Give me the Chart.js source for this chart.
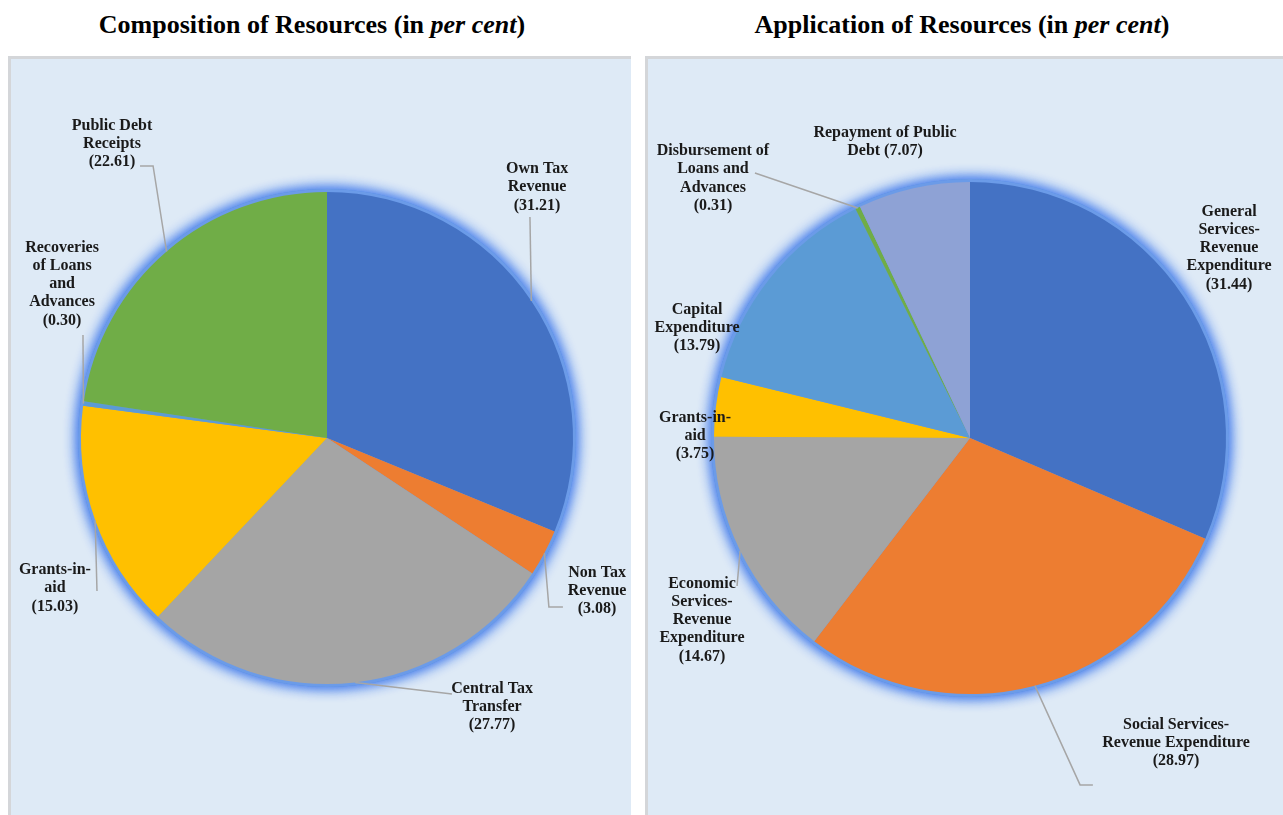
<!DOCTYPE html>
<html>
<head>
<meta charset="utf-8">
<script src="https://cdn.jsdelivr.net/npm/chart.js@4.4.1/dist/chart.umd.min.js"></script>
<style>
  body { margin: 0; background: #fff; width: 1283px; height: 815px; overflow: hidden; position: relative; }
  .title { position: absolute; top: 8px; font: bold 26px "Liberation Serif", "Times New Roman", serif; color: #000; text-align: center; line-height: 34px; }
  .panel { position: absolute; top: 56px; height: 759px; background: #deeaf6; border-top: 3px solid #d4d6d9; border-left: 3px solid #d4d6d9; box-sizing: border-box; }
  canvas { position: absolute; }
</style>
</head>
<body>
<div class="title" style="left:0;width:624px">Composition of Resources (in <i>per cent</i>)</div>
<div class="title" style="left:645px;width:634px">Application of Resources (in <i>per cent</i>)</div>
<div class="panel" style="left:8px;width:623px"></div>
<div class="panel" style="left:645px;width:638px"></div>
<canvas id="leftChart" width="620" height="756" style="left:11px;top:59px"></canvas>
<canvas id="rightChart" width="635" height="756" style="left:648px;top:59px"></canvas>
<script>
// Composition of Resources
const leftLabels = ["Own Tax Revenue", "Non Tax Revenue", "Central Tax Transfer", "Grants-in-aid", "Recoveries of Loans and Advances", "Public Debt Receipts"];
const leftValues = [31.21, 3.08, 27.77, 15.03, 0.30, 22.61];
const leftColors = ["#4472c4", "#ed7d31", "#a5a5a5", "#ffc000", "#5b9bd5", "#70ad47"];

// Application of Resources
const rightLabels = ["General Services-Revenue Expenditure", "Social Services-Revenue Expenditure", "Economic Services-Revenue Expenditure", "Grants-in-aid", "Capital Expenditure", "Disbursement of Loans and Advances", "Repayment of Public Debt"];
const rightValues = [31.44, 28.97, 14.67, 3.75, 13.79, 0.31, 7.07];
const rightColors = ["#4472c4", "#ed7d31", "#a5a5a5", "#ffc000", "#5b9bd5", "#70ad47", "#8ea2d5"];

// label layout, in units of the pie radius from the centre ("#" = value)
const leftLayout = [
  { lines: ["Own Tax", "Revenue", "(#)"], at: [0.854, -1.02], leader: [[0.825, -0.898]] },
  { lines: ["Non Tax", "Revenue", "(#)"], at: [1.098, 0.622], leader: [[0.902, 0.687], [0.959, 0.687]] },
  { lines: ["Central Tax", "Transfer", "(#)"], at: [0.671, 1.093], leader: [[0.508, 1.041]] },
  { lines: ["Grants-in-", "aid", "(#)"], at: [-1.106, 0.61], leader: [[-0.935, 0.622]] },
  { lines: ["Recoveries", "of Loans", "and", "Advances", "(#)"], at: [-1.077, -0.626], leader: [[-0.992, -0.419]] },
  { lines: ["Public Debt", "Receipts", "(#)"], at: [-0.874, -1.195], leader: [[-0.707, -1.106], [-0.76, -1.106]] },
];
const rightLayout = [
  { lines: ["General", "Services-", "Revenue", "Expenditure", "(#)"], at: [1.012, -0.742] },
  { lines: ["Social Services-", "Revenue Expenditure", "(#)"], at: [0.805, 1.191], leader: [[0.43, 1.355], [0.48, 1.355]] },
  { lines: ["Economic", "Services-", "Revenue", "Expenditure", "(#)"], at: [-1.047, 0.711], leader: [[-0.91, 0.578]] },
  { lines: ["Grants-in-", "aid", "(#)"], at: [-1.074, -0.008] },
  { lines: ["Capital", "Expenditure", "(#)"], at: [-1.066, -0.43] },
  { lines: ["Disbursement of", "Loans and", "Advances", "(#)"], at: [-1.004, -1.014], leader: [[-0.84, -1.035]] },
  { lines: ["Repayment of Public", "Debt (#)"], at: [-0.332, -1.156] },
];

// soft blue glow round the pie
const glowPlugin = {
  id: "glow",
  beforeDatasetsDraw(chart) {
    const arc = chart.getDatasetMeta(0).data[0];
    const ctx = chart.ctx;
    ctx.save();
    ctx.beginPath();
    ctx.arc(arc.x, arc.y, arc.outerRadius + 3, 0, Math.PI * 2);
    ctx.fillStyle = "#6b9be8";
    ctx.shadowColor = "rgba(70,125,235,1)";
    ctx.shadowBlur = 14;
    ctx.fill();
    ctx.fill();
    ctx.restore();
  },
};

// labels with leader lines
const labelPlugin = {
  id: "sliceLabels",
  afterDatasetsDraw(chart, args, opts) {
    const ctx = chart.ctx;
    const meta = chart.getDatasetMeta(0);
    const values = chart.data.datasets[0].data;
    opts.layout.forEach((lab, i) => {
      const arc = meta.data[i];
      const cx = arc.x, cy = arc.y, R = arc.outerRadius;
      if (lab.leader) {
        const mid = (arc.startAngle + arc.endAngle) / 2;
        ctx.save();
        ctx.strokeStyle = "#a6a6a6";
        ctx.lineWidth = 1.5;
        ctx.beginPath();
        ctx.moveTo(cx + Math.cos(mid) * R, cy + Math.sin(mid) * R);
        lab.leader.forEach((p) => ctx.lineTo(cx + p[0] * R, cy + p[1] * R));
        ctx.stroke();
        ctx.restore();
      }
      ctx.save();
      ctx.font = 'bold 16px "Liberation Serif", "Times New Roman", serif';
      ctx.fillStyle = "#1a1a1a";
      ctx.textAlign = "center";
      ctx.textBaseline = "middle";
      const lh = 18.3;
      const x = cx + lab.at[0] * R;
      const y0 = cy + lab.at[1] * R - ((lab.lines.length - 1) * lh) / 2;
      lab.lines.forEach((t, k) => {
        ctx.fillText(t.replace("#", values[i].toFixed(2)), x, y0 + k * lh);
      });
      ctx.restore();
    });
  },
};

function makePie(id, labels, values, colors, layout, padding) {
  new Chart(document.getElementById(id), {
    type: "pie",
    data: {
      labels: labels,
      datasets: [{ data: values, backgroundColor: colors, borderWidth: 0, hoverOffset: 0 }],
    },
    options: {
      responsive: false,
      animation: false,
      layout: { padding: padding },
      plugins: {
        legend: { display: false },
        tooltip: { enabled: false },
        sliceLabels: { layout: layout },
      },
    },
    plugins: [glowPlugin, labelPlugin],
  });
}

makePie("leftChart", leftLabels, leftValues, leftColors, leftLayout, { left: 70, right: 58, top: 133, bottom: 131 });
makePie("rightChart", rightLabels, rightValues, rightColors, rightLayout, { left: 66, right: 57, top: 123, bottom: 121 });
</script>
</body>
</html>
